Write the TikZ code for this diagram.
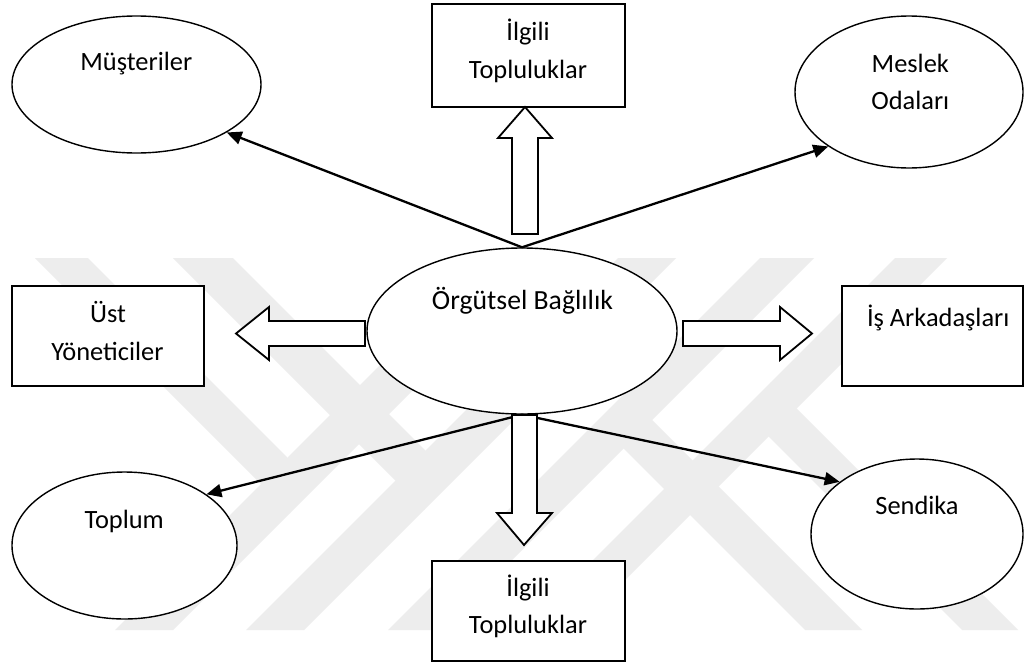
\documentclass[tikz,border=0pt]{standalone}
\usepackage{fontspec}
\setmainfont{Carlito}
\usetikzlibrary{arrows.meta,shapes.geometric}

\begin{document}
\begin{tikzpicture}[x=1pt,y=-1pt,
  oval/.style={ellipse, draw, line width=1.4pt, fill=white, inner sep=0pt},
  box/.style={rectangle, draw, line width=1.8pt, fill=white, inner sep=0pt},
  lbl/.style={font=\fontsize{26.4}{37.5}\selectfont, anchor=base, inner sep=0pt},
  biglbl/.style={lbl, font=\fontsize{27.7}{38}\selectfont},
  link/.style={line width=2.3pt, -{Triangle[length=15pt,width=13pt]}},
  blockarrow/.style={draw, line width=1.8pt, fill=white, line join=miter},
  wmband/.style={fill=black!7}
]
\useasboundingbox (0,0) rectangle (1024,664);
\fill[white] (0,0) rectangle (1024,664);

% light background emblem made of diagonal bands
\fill[wmband] (115,630) -- (173,630) -- (545,258) -- (487,258) -- cycle;
\fill[wmband] (246,630) -- (304,630) -- (676,258) -- (618,258) -- cycle;
\fill[wmband] (388,630) -- (442,630) -- (814,258) -- (760,258) -- cycle;
\fill[wmband] (523,630) -- (575,630) -- (947,258) -- (895,258) -- cycle;
\fill[wmband] (35,258) -- (88,258) -- (287,457) -- (290,513) -- cycle;
\fill[wmband] (173,258) -- (233,258) -- (425.5,450.5) -- (424.5,509.5) -- cycle;
\fill[wmband] (805,630) -- (862,630) -- (625,393) -- (623.5,448.5) -- cycle;
\fill[wmband] (962,630) -- (1018,630) -- (770.5,382.5) -- (768.5,436.5) -- cycle;

% shapes
\node[oval, minimum width=310pt, minimum height=166pt] (cen) at (522,331) {};
\node[oval, minimum width=249pt, minimum height=137pt] (mus) at (136.5,84.5) {};
\node[oval, minimum width=228pt, minimum height=152pt] (mes) at (909,92) {};
\node[oval, minimum width=225pt, minimum height=147pt] (top) at (124.5,545.5) {};
\node[oval, minimum width=212pt, minimum height=150pt] (sen) at (917,534) {};

\node[box, minimum width=193pt, minimum height=103pt] (ilgA) at (528.5,55.5) {};
\node[box, minimum width=193pt, minimum height=100pt] (ilgB) at (528.5,611) {};
\node[box, minimum width=192pt, minimum height=100pt] (ust) at (108,336) {};
\node[box, minimum width=181pt, minimum height=100pt] (isa) at (932.5,336) {};

% thin connectors with filled heads
\draw[link] (cen.north) -- (mus.-28.7);
\draw[link] (cen.north) -- (mes.-146.2);
\draw[link] (cen.south) -- (top.32.1);
\draw[link] (cen.south) -- (sen.146);

% hollow block arrows
\draw[blockarrow] (512,234) -- (512,138) -- (498,138) -- (525,107) -- (552,138) -- (538,138) -- (538,234) -- cycle;
\draw[blockarrow] (512,415) -- (512,513) -- (497,513) -- (524,545) -- (552,513) -- (537,513) -- (537,415) -- cycle;
\draw[blockarrow] (365,321) -- (269,321) -- (269,307) -- (236,333.5) -- (269,360) -- (269,346) -- (365,346) -- cycle;
\draw[blockarrow] (683,321) -- (780,321) -- (780,307) -- (812,333.5) -- (780,360) -- (780,346) -- (683,346) -- cycle;

% labels
\node[biglbl] (cen-t) at (522.5,309) {Örgütsel Bağlılık};
\node[lbl] (mus-t) at (136.3,70.7) {Müşteriler};
\node[lbl] (mes-t1) at (910.3,72.7) {Meslek};
\node[lbl] (mes-t2) at (910.3,109.3) {Odaları};
\node[lbl] (ilgA-t1) at (528,40.7) {İlgili};
\node[lbl] (ilgA-t2) at (528,78) {Topluluklar};
\node[lbl] (ilgB-t1) at (528,596.3) {İlgili};
\node[lbl] (ilgB-t2) at (528,633.7) {Topluluklar};
\node[lbl] (ust-t1) at (108,322.7) {Üst};
\node[lbl] (ust-t2) at (107.5,360) {Yöneticiler};
\node[lbl] (isa-t) at (938.2,326) {İş Arkadaşları};
\node[lbl] (top-t) at (124.2,528.3) {Toplum};
\node[lbl] (sen-t) at (917,514) {Sendika};
\end{tikzpicture}
\end{document}
